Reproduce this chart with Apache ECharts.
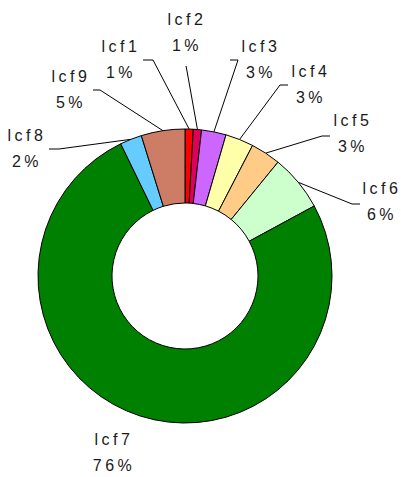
<!DOCTYPE html>
<html>
<head>
<meta charset="utf-8">
<script src="https://cdn.jsdelivr.net/npm/echarts@6/dist/echarts.min.js"></script>
<style>
html,body{margin:0;padding:0;background:#fff;}
#chart{width:401px;height:477px;}
#chart text{letter-spacing:3.5px;}
</style>
</head>
<body>
<div id="chart"></div>
<script>
// Data
const categories = ['lcf1','lcf2','lcf3','lcf4','lcf5','lcf6','lcf7','lcf8','lcf9'];
const values = [0.9, 0.9, 2.7, 3.1, 3.3, 6.2, 75.7, 2.4, 4.8];

// Styles
const colors = ['#ff0000','#e0005a','#cc66ff','#ffffaa','#ffcc88','#ccffcc','#008000','#66ccff','#cd7d66'];
// label block centers and leader elbows (layout styling)
const labelPos = [
  [121, 59], [187, 32], [261, 59], [311, 84], [353, 133],
  [382, 201], [114, 452], [27, 148], [71, 89]
];
const leaderEnds = [
  [[153,60],[143,60]],
  [[187,71],[186,66]],
  [[238,60],[230,60]],
  [[280,85],[288,85]],
  [[322,136],[330,136]],
  [[352,204],[360,204]],
  null,
  [[59,149],[49,149]],
  [[100,90],[93,90]]
];

const chart = echarts.init(document.getElementById('chart'), null, {renderer:'svg'});
chart.setOption({
  animation:false,
  backgroundColor:'#fff',
  series:[{
    type:'pie',
    center:[185, 276],
    radius:[73, 147],
    startAngle:90,
    clockwise:true,
    avoidLabelOverlap:false,
    data: categories.map((c,i)=>({
      name:c, value:values[i],
      itemStyle:{color:colors[i]},
      labelLine:{show: leaderEnds[i] !== null}
    })),
    itemStyle:{borderColor:'#000', borderWidth:1},
    label:{
      show:true,
      position:'outside',
      fontFamily:'Liberation Sans',
      fontSize:16,
      lineHeight:26,
      color:'#1a1a1a',
      formatter: p => p.name + '\n' + Math.round(p.percent) + '%'
    },
    labelLine:{show:true, length:10, length2:10, lineStyle:{color:'#000', width:1}},
    emphasis:{disabled:true}
  }],
  });
chart.setOption({
  series:[{
    labelLayout: function(params){
      const i = params.dataIndex;
      const res = {x: labelPos[i][0], y: labelPos[i][1], align:'center', verticalAlign:'middle'};
      if (leaderEnds[i] && params.labelLinePoints) {
        res.labelLinePoints = [params.labelLinePoints[0], leaderEnds[i][0], leaderEnds[i][1]];
      }
      return res;
    }
  }]
});
</script>
</body>
</html>
